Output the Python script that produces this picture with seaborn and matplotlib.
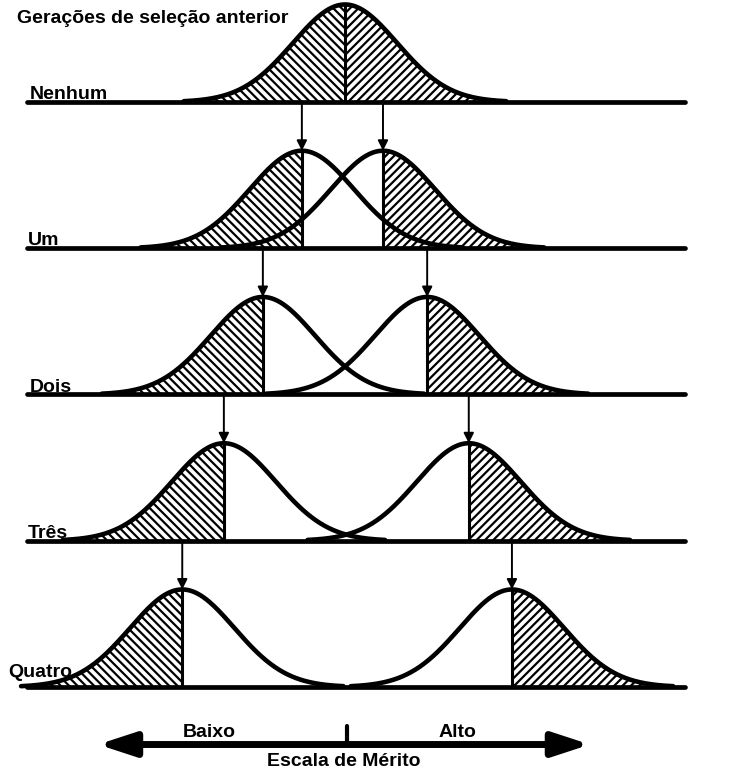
import numpy as np
import pandas as pd
import matplotlib
matplotlib.use("Agg")
import matplotlib.pyplot as plt
import seaborn as sns

# generations of prior selection, one row each
row_labels = ["Nenhum", "Um", "Dois", "Três", "Quatro"]
row_label_x = [-6.06, -6.10, -6.06, -6.10, -6.48]
row_label_lift = [0.03, 0.03, 0.03, 0.03, 0.10]
baselines = [0.0, -1.5, -3.0, -4.5, -6.0]

# curve centres on the merit scale (in sd units); first row has a single curve
left_centres = [0.0, -0.83, -1.58, -2.33, -3.13]
right_centres = [None, 0.73, 1.58, 2.38, 3.21]
peak_height = 1.0
half_span = 3.1

title = "Gerações de seleção anterior"
scale_label = "Escala de Mérito"
low_label, high_label = "Baixo", "Alto"

sns.set_style("white")
plt.rcParams["font.family"] = ["Liberation Sans", "DejaVu Sans"]
plt.rcParams["text.color"] = "black"
plt.rcParams["hatch.linewidth"] = 1.6
plt.rcParams["hatch.color"] = "black"


def bell(centre, base):
    x = np.linspace(centre - half_span, centre + half_span, 300)
    y = base + peak_height * np.exp(-0.5 * (x - centre) ** 2)
    return x, y


rows = []
for i, base in enumerate(baselines):
    for side, c in (("L", left_centres[i]), ("R", right_centres[i])):
        if c is None:
            continue
        x, y = bell(c, base)
        rows.append(pd.DataFrame({"x": x, "y": y, "curve": f"{i}{side}"}))
curves = pd.concat(rows, ignore_index=True)

fig = plt.figure(figsize=(7.4, 7.8), dpi=100)
ax = fig.add_axes([0, 0, 1, 1])

# baselines
ax.hlines(baselines, -6.12, 6.54, color="black", lw=3.4, capstyle="round")

# hatched tails
for i, base in enumerate(baselines):
    lc, rc = left_centres[i], right_centres[i]
    x, y = bell(lc, base)
    m = x <= lc
    ax.fill_between(x[m], base, y[m], facecolor="white", edgecolor="black",
                    lw=0, hatch="\\\\\\\\", zorder=1)
    if rc is None:
        m = x >= lc
        ax.fill_between(x[m], base, y[m], facecolor="white", edgecolor="black",
                        lw=0, hatch="////", zorder=1)
        cuts = [lc]
    else:
        x, y = bell(rc, base)
        m = x >= rc
        ax.fill_between(x[m], base, y[m], facecolor="white", edgecolor="black",
                        lw=0, hatch="////", zorder=1)
        cuts = [lc, rc]
    ax.vlines(cuts, base, base + peak_height, color="black", lw=2.2)

sns.lineplot(data=curves, x="x", y="y", units="curve", estimator=None,
             sort=False, color="black", lw=3.3, legend=False, ax=ax)

# arrows from each cut point down to the next generation's mean
for i in range(1, len(baselines)):
    prev_cuts = [left_centres[i], right_centres[i]]
    for c in prev_cuts:
        ax.annotate("", xy=(c, baselines[i] + peak_height),
                    xytext=(c, baselines[i - 1]),
                    arrowprops=dict(arrowstyle="-|>,head_length=0.6,head_width=0.3",
                                    color="black", lw=1.4, mutation_scale=10,
                                    shrinkA=0, shrinkB=0))

# row labels and title
for lab, lx, lift, base in zip(row_labels, row_label_x, row_label_lift, baselines):
    ax.text(lx, base + lift, lab, fontsize=14, fontweight="bold",
            color="black", va="baseline")
ax.text(-6.31, 0.81, title, fontsize=14, fontweight="bold",
        color="black", va="baseline")

# merit scale
axis_y = -6.59
ax.annotate("", xy=(4.71, axis_y), xytext=(-4.75, axis_y),
            arrowprops=dict(arrowstyle="<|-|>,head_length=0.55,head_width=0.18",
                            color="black", lw=5, mutation_scale=40,
                            shrinkA=0, shrinkB=0))
ax.vlines([0.03], axis_y, -6.40, color="black", lw=3, capstyle="round")
ax.text(-2.62, -6.51, low_label, fontsize=14, fontweight="bold",
        color="black", ha="center", va="baseline")
ax.text(2.17, -6.51, high_label, fontsize=14, fontweight="bold",
        color="black", ha="center", va="baseline")
ax.text(-0.02, -6.81, scale_label, fontsize=14, fontweight="bold",
        color="black", ha="center", va="baseline")

ax.set_xlim(-6.635, 7.596)
ax.set_ylim(-6.954, 1.046)
ax.axis("off")

fig.savefig("out.png", dpi=100, facecolor="white")
plt.close(fig)
